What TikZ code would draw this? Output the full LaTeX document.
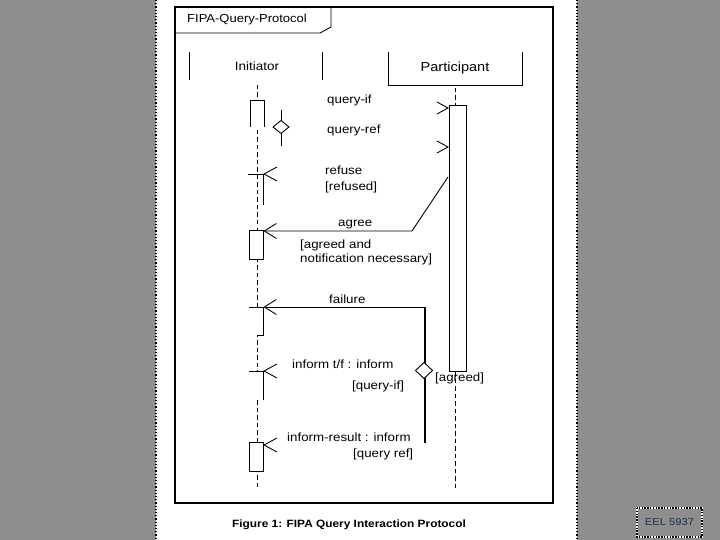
\documentclass[tikz,border=0pt]{standalone}
\usepackage{fontspec}
\setmainfont[FakeStretch=1.12]{Liberation Sans}
\usetikzlibrary{arrows.meta}
\definecolor{bggray}{HTML}{8E8E8E}
\definecolor{eelblue}{HTML}{1E2E4A}
\begin{document}
\begin{tikzpicture}[x=1pt,y=-1pt,
  ln/.style={line width=0.9pt},
  msg/.style={font=\fontsize{11.9}{13}\selectfont, inner sep=0pt, anchor=west},
  life/.style={line width=0.9pt, dash pattern=on 4.5pt off 3pt},
  barb/.style={-{Straight Barb[length=12pt,width=15pt,line width=0.9pt]}},
  actbox/.style={draw, fill=white, line width=0.9pt, minimum width=14pt, inner sep=0pt, anchor=north west}]
\useasboundingbox (0,0) rectangle (720,540);
\fill[bggray] (0,0) rectangle (720,540);
\fill[white] (156,0) rectangle (577,540);
\draw[dotted, line width=1.2pt] (156,0) -- (156,540);
\draw[dotted, line width=1.2pt] (577,0) -- (577,540);
% frame
\draw[line width=1.1pt] (175,7) rectangle (553,503);
\draw[ln] (175,33) -- (320,33) -- (331,27) -- (331,7);
\node[msg, font=\fontsize{11.6}{13}\selectfont] (title) at (187,20) {FIPA-Query-Protocol};
% heads
\draw[ln] (189,52) -- (189,80);
\draw[ln] (322,52) -- (322,80);
\node[font=\fontsize{12}{14}\selectfont, inner sep=0pt] (init) at (257,66) {Initiator};
\draw[ln] (388,52) -- (388,85) -- (522,85) -- (522,52);
\node[font=\fontsize{13}{15}\selectfont, inner sep=0pt] (part) at (455,68) {Participant};
% lifelines
\coordinate (iTop) at (257,85);
\coordinate (iBot) at (257,488);
\draw[life] (iTop) -- (iBot);
\coordinate (pTop) at (455,88);
\coordinate (pMid) at (455,105);
\coordinate (pLow) at (455,371);
\coordinate (pBot) at (455,488);
\draw[life] (pTop) -- (pMid);
\draw[life] (pLow) -- (pBot);
% participant activation
\node[actbox, minimum width=17pt, minimum height=266pt] (pact) at (449,105) {};
% initiator activation 1 (open bottom)
\fill[white] (250,100) rectangle (264,127);
\draw[ln] (250,127) -- (250,100) -- (264,100) -- (264,127);
% diamond 1
\draw[ln] (281,110) -- (281,146);
\draw[ln, fill=white] (281,120.5) -- (289,127) -- (281,133.5) -- (273,127) -- cycle;
% query-if / query-ref heads
\draw[ln] (437,102) -- (448,108) -- (437,114);
\draw[ln] (437,141) -- (448,147) -- (437,153);
\node[msg] (qif) at (327,100) {query-if};
\node[msg] (qref) at (327,130) {query-ref};
% refuse
\draw[ln] (248,174) -- (263,174) -- (263,205);
\draw[ln] (277,167) -- (264,174) -- (277,181);
\node[msg] (refuse) at (325,170) {refuse};
\node[msg] (refused) at (325,187) {[refused]};
% agree
\coordinate (agA) at (448,177);
\coordinate (agB) at (412,231);
\coordinate (agC) at (263.5,231);
\draw[ln, barb] (agA) -- (agB) -- (agC);
\node[actbox, minimum height=29pt] (agact) at (249,230) {};
\node[msg] (agree) at (338,225) {agree};
\node[msg] (agc1) at (300,245) {[agreed and};
\node[msg] (agc2) at (300,259) {notification necessary]};
% failure
\coordinate (fA) at (425,307);
\coordinate (fB) at (263.5,307);
\coordinate (fC) at (425,443);
\draw[line width=1.9pt] (fA) -- (fC);
\draw[ln, barb] (fA) -- (fB);
\fill[white] (250,308) rectangle (262.5,334.5);
\draw[ln] (249,307) -- (263,307) -- (263,335) -- (257,335);
\node[msg] (failure) at (329,299) {failure};
% inform t/f
\fill[white] (250,372) rectangle (262.5,400);
\draw[ln] (249,371) -- (263,371) -- (263,400);
\draw[ln] (277,364) -- (264,371) -- (277,378);
\node[msg] (itf) at (292,364) {inform t/f : inform};
\node[msg] (qifc) at (352,386) {[query-if]};
% diamond 2
\draw[ln, fill=white] (424,362.5) -- (432.5,370.5) -- (424,378.5) -- (415.5,370.5) -- cycle;
\node[msg] (agreed) at (435,378) {[agreed]};
% inform-result
\node[actbox, minimum height=29pt] (iract) at (249,442) {};
\draw[ln] (277,438) -- (264,445) -- (277,452);
\node[msg] (ir) at (287,437) {inform-result : inform};
\node[msg] (qrefc) at (353,454) {[query ref]};
% caption
\node[font=\bfseries\fontsize{10.6}{13}\selectfont, inner sep=0pt] (cap) at (349,525) {Figure 1: FIPA Query Interaction Protocol};
% footer box
\fill[bggray] (637,508) rectangle (702,537);
\draw[white, line width=1.4pt] (637,508) rectangle (702,537);
\draw[black, line width=1.4pt, dash pattern=on 1.4pt off 1.4pt] (637,508) rectangle (702,537);
\node[font=\fontsize{10}{12}\selectfont, text=eelblue, inner sep=0pt] (eel) at (669.5,522.5) {EEL 5937};
\end{tikzpicture}
\end{document}
